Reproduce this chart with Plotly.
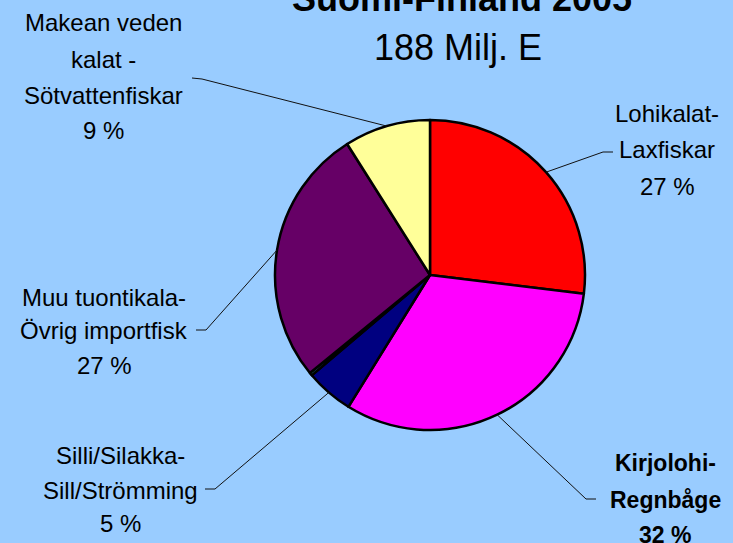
import math
import plotly.graph_objects as go

# ---- data ----
categories = ["Lohikalat-Laxfiskar", "Kirjolohi-Regnbåge", "Silli/Silakka-Sill/Strömming",
              "Muu", "Muu tuontikala-Övrig importfisk", "Makean veden kalat - Sötvattenfiskar"]
values = [27, 32, 5, 0.3, 27, 9]
colors = ["#FF0000", "#FF00FF", "#000080", "#33CCCC", "#660066", "#FFFF99"]
label_lines = {
    0: ["Lohikalat-", "Laxfiskar", "27 %"],
    1: ["Kirjolohi-", "Regnbåge", "32 %"],
    2: ["Silli/Silakka-", "Sill/Strömming", "5 %"],
    4: ["Muu tuontikala-", "Övrig importfisk", "27 %"],
    5: ["Makean veden", "kalat -", "Sötvattenfiskar", "9 %"],
}
title_text = "Suomi-Finland 2005"
subtitle_text = "188 Milj. E"

W, H = 733, 543
BG = "#99CCFF"
CX, CY, R = 430, 275, 155


def px(x):
    return x / W


def py(y):
    return 1 - y / H


fig = go.Figure(go.Pie(
    labels=categories, values=values, sort=False, direction="clockwise", rotation=0,
    marker=dict(colors=colors, line=dict(color="black", width=2.5)),
    textinfo="none", hoverinfo="skip", showlegend=False,
    domain=dict(x=[px(CX - R), px(CX + R)], y=[py(CY + R), py(CY - R)]),
))

# label placement (layout only)
label_pos = {
    0: dict(x=667, ys=[113, 150, 186], bold=False, elbow=[(603, 152), (613, 152)]),
    1: dict(x=665, ys=[463, 500, 535], bold=True, elbow=[(586, 499), (596, 499)]),
    2: dict(x=120, ys=[455, 490, 523], bold=False, elbow=[(215, 489), (205, 489)]),
    4: dict(x=104, ys=[297, 330, 365], bold=False, elbow=[(206, 330), (196, 330)]),
    5: dict(x=103, ys=[22, 59, 95, 130], bold=False, elbow=[(202, 79), (192, 78)]),
}

total = sum(values)
cum = 0
mids = []
for v in values:
    mid_frac = (cum + v / 2) / total
    mids.append(90 - 360 * mid_frac)
    cum += v

annotations = []
shapes = []
for i, lines in label_lines.items():
    lp = label_pos[i]
    for line, y in zip(lines, lp["ys"]):
        txt = f"<b>{line}</b>" if lp["bold"] else line
        annotations.append(dict(x=px(lp["x"]), y=py(y), xref="paper", yref="paper",
                                text=txt, showarrow=False, xanchor="center", yanchor="middle",
                                font=dict(family="Liberation Sans, Arial", size=24 if not lp["bold"] else 23,
                                          color="black")))
    a = math.radians(mids[i])
    ex, ey = CX + R * math.cos(a), CY - R * math.sin(a)
    pts = [(ex, ey)] + lp["elbow"]
    path = "M " + " L ".join(f"{px(x)},{py(y)}" for x, y in pts)
    shapes.append(dict(type="path", xref="paper", yref="paper", path=path,
                       line=dict(color="#111111", width=1)))

annotations.append(dict(x=px(462), y=py(-1), xref="paper", yref="paper",
                        text=f"<b>{title_text}</b>", showarrow=False,
                        xanchor="center", yanchor="middle",
                        font=dict(family="Liberation Sans, Arial", size=36, color="black")))
annotations.append(dict(x=px(458), y=py(47), xref="paper", yref="paper",
                        text=subtitle_text, showarrow=False,
                        xanchor="center", yanchor="middle",
                        font=dict(family="Liberation Sans, Arial", size=36, color="black")))

fig.update_layout(width=W, height=H, margin=dict(l=0, r=0, t=0, b=0),
                  paper_bgcolor=BG, plot_bgcolor=BG,
                  annotations=annotations, shapes=shapes)
fig.write_html("out.html", config={"displayModeBar": False},
               post_script="document.body.style.margin='0';document.body.style.background='#99CCFF';")
